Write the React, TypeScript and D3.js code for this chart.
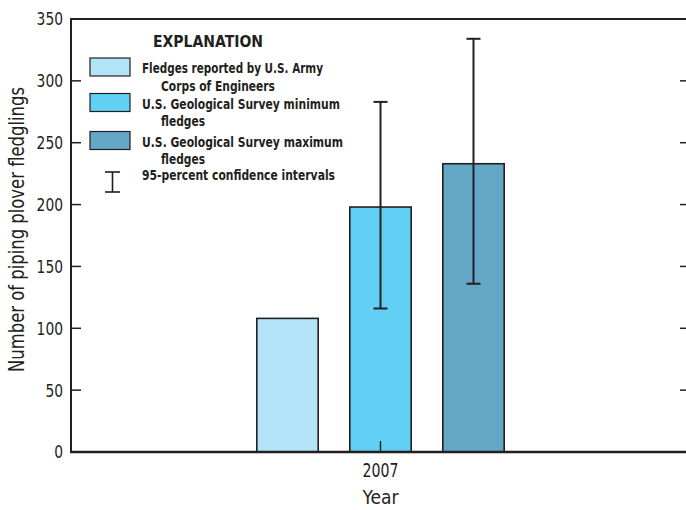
import React from "react";
import * as d3 from "d3";

const years = ["2007"];
const seriesNames = [
  "Fledges reported by U.S. Army Corps of Engineers",
  "U.S. Geological Survey minimum fledges",
  "U.S. Geological Survey maximum fledges",
];
const values = [108, 198, 233];
const ciLow = [null, 116, 136];
const ciHigh = [null, 283, 334];
const yTicks = [0, 50, 100, 150, 200, 250, 300, 350];
const colors = ["#b3e3f7", "#62cff4", "#63a6c5"];
const legendLines: string[][] = [
  ["Fledges reported by U.S. Army", "Corps of Engineers"],
  ["U.S. Geological Survey minimum", "fledges"],
  ["U.S. Geological Survey maximum", "fledges"],
];
const legendWidths: number[][] = [
  [181, 114],
  [198, 44],
  [201, 44],
];

const W = 686, H = 510;
const left = 71, right = 690, top = 19, bottom = 452;
const ink = "#231f20";
const font = "'Liberation Sans Narrow', 'DejaVu Sans Condensed', 'Arial Narrow', sans-serif";

export default function App() {
  const y = d3.scaleLinear().domain([0, 350]).range([bottom, top]);
  const x = d3.scaleBand().domain(years).range([left, right]);
  const cx = (x("2007") as number) + x.bandwidth() / 2;
  const inner = d3
    .scaleBand()
    .domain(seriesNames)
    .range([cx - 139.5, cx + 139.5])
    .paddingInner(0.34)
    .paddingOuter(0.17);
  const cap = 7;

  return (
    <svg width={W} height={H} style={{ position: "absolute", left: 0, top: 0, background: "#fff" }} fontFamily={font}>
      {/* bars */}
      {seriesNames.map((s, i) => (
        <rect
          key={s}
          x={inner(s)}
          y={y(values[i])}
          width={inner.bandwidth()}
          height={y(0) - y(values[i])}
          fill={colors[i]}
          stroke={ink}
          strokeWidth={1.6}
        />
      ))}
      {/* error bars */}
      {seriesNames.map((s, i) => {
        if (ciLow[i] == null) return null;
        const bx = (inner(s) as number) + inner.bandwidth() / 2;
        return (
          <g key={"e" + i} stroke={ink} strokeWidth={2}>
            <line x1={bx} x2={bx} y1={y(ciLow[i] as number)} y2={y(ciHigh[i] as number)} />
            <line x1={bx - cap} x2={bx + cap} y1={y(ciLow[i] as number)} y2={y(ciLow[i] as number)} />
            <line x1={bx - cap} x2={bx + cap} y1={y(ciHigh[i] as number)} y2={y(ciHigh[i] as number)} />
          </g>
        );
      })}
      {/* frame */}
      <g stroke={ink} fill="none">
        <line x1={left} x2={left} y1={top} y2={bottom} strokeWidth={2} />
        <line x1={right} x2={right} y1={top} y2={bottom} strokeWidth={2} />
        <line x1={left - 1} x2={right + 1} y1={top} y2={top} strokeWidth={2} />
        <line x1={left - 1} x2={right + 1} y1={bottom} y2={bottom} strokeWidth={2.5} />
      </g>
      {/* y ticks */}
      {yTicks.map((t) => (
        <g key={t}>
          {t > 0 && t < 350 && (
            <>
              <line x1={left} x2={left + 10} y1={y(t)} y2={y(t)} stroke={ink} strokeWidth={1.5} />
              <line x1={right - 10} x2={right} y1={y(t)} y2={y(t)} stroke={ink} strokeWidth={1.5} />
            </>
          )}
          <text
            x={63}
            y={y(t)}
            dy="0.36em"
            textAnchor="end"
            fontSize={18}
            fill={ink}
            textLength={String(t).length * 8.8}
            lengthAdjust="spacingAndGlyphs"
          >
            {t}
          </text>
        </g>
      ))}
      {/* x ticks */}
      {years.map((yr) => (
        <g key={yr}>
          <line x1={cx} x2={cx} y1={bottom} y2={bottom - 11} stroke={ink} strokeWidth={1.5} />
          <text x={cx} y={476.5} textAnchor="middle" fontSize={20} fill={ink} textLength={36} lengthAdjust="spacingAndGlyphs">
            {yr}
          </text>
        </g>
      ))}
      <text x={cx} y={504} textAnchor="middle" fontSize={20} fill={ink} textLength={36} lengthAdjust="spacingAndGlyphs">
        Year
      </text>
      <text
        transform={`translate(24, 229.5) rotate(-90)`}
        textAnchor="middle"
        fontSize={21}
        fill={ink}
        textLength={285}
        lengthAdjust="spacingAndGlyphs"
      >
        Number of piping plover fledglings
      </text>
      {/* legend */}
      <text x={153} y={47} fontSize={16} fontWeight="bold" fill={ink} textLength={110} lengthAdjust="spacingAndGlyphs">
        EXPLANATION
      </text>
      {legendLines.map((lines, i) => {
        const sy = [58, 93.5, 131.5][i];
        return (
          <g key={"l" + i}>
            <rect x={90} y={sy} width={40} height={18} fill={colors[i]} stroke={ink} strokeWidth={1.2} />
            <text
              x={142}
              y={sy + 15}
              fontSize={14.5}
              fontWeight="bold"
              fill={ink}
              textLength={legendWidths[i][0]}
              lengthAdjust="spacingAndGlyphs"
            >
              {lines[0]}
            </text>
            <text
              x={161}
              y={sy + 32.5}
              fontSize={14.5}
              fontWeight="bold"
              fill={ink}
              textLength={legendWidths[i][1]}
              lengthAdjust="spacingAndGlyphs"
            >
              {lines[1]}
            </text>
          </g>
        );
      })}
      <g stroke={ink} strokeWidth={1.6}>
        <line x1={112.5} x2={112.5} y1={172} y2={192} />
        <line x1={105} x2={120} y1={172} y2={172} />
        <line x1={105} x2={120} y1={192} y2={192} />
      </g>
      <text x={142} y={180} fontSize={14.5} fontWeight="bold" fill={ink} textLength={193} lengthAdjust="spacingAndGlyphs">
        95-percent confidence intervals
      </text>
    </svg>
  );
}
